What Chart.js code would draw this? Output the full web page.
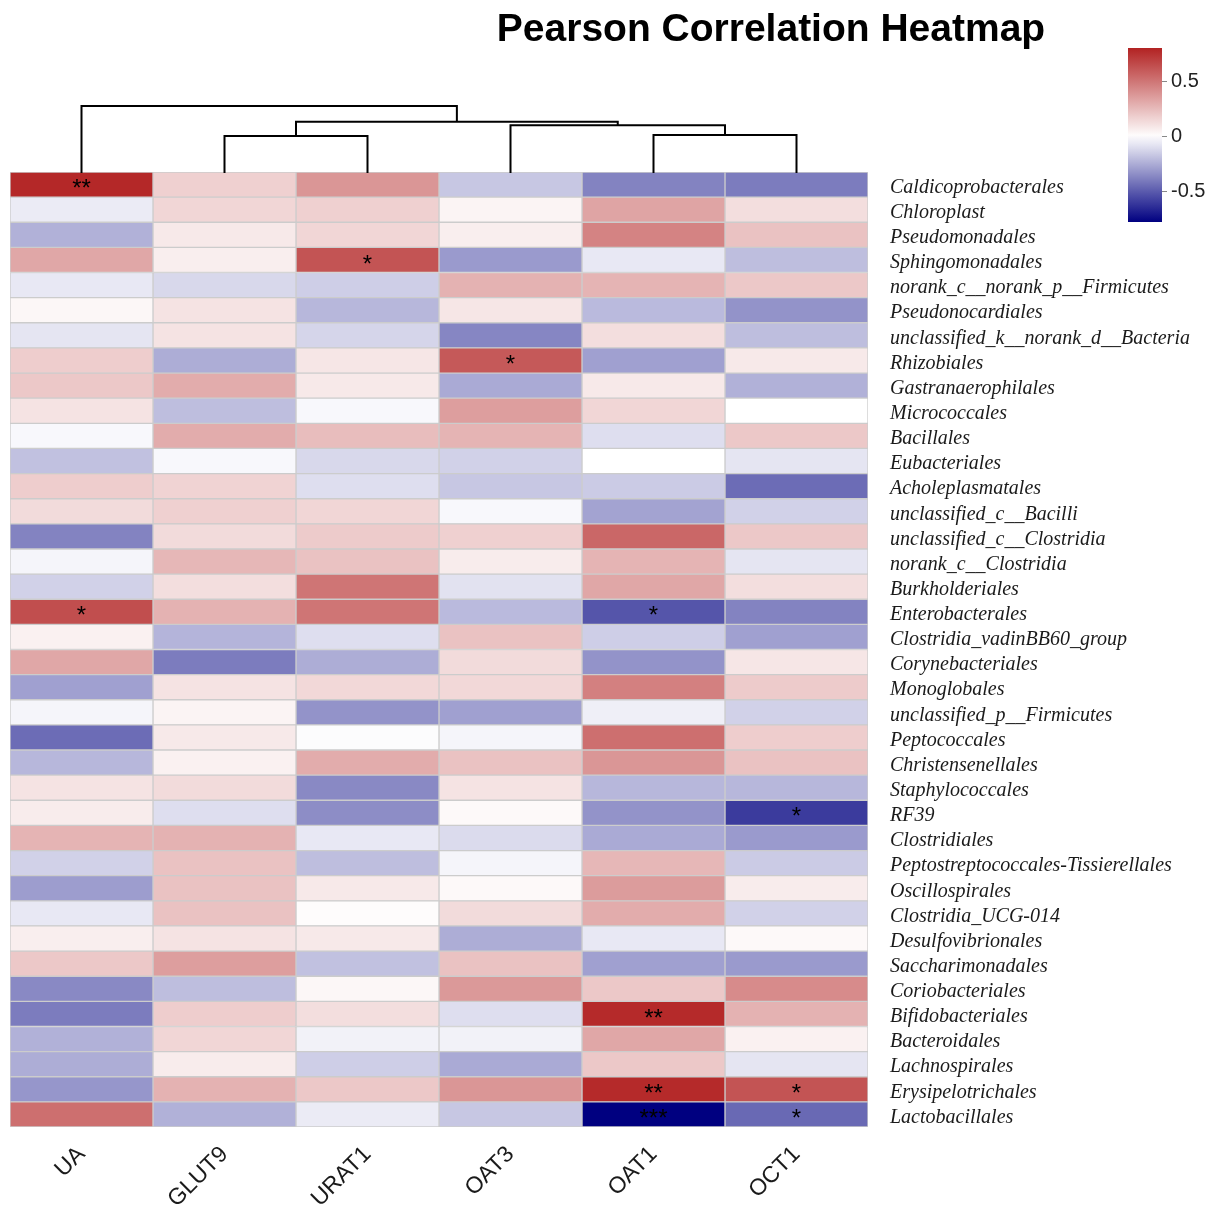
<!DOCTYPE html>
<html>
<head>
<meta charset="utf-8">
<script src="https://cdn.jsdelivr.net/npm/chart.js@4/dist/chart.umd.min.js"></script>
<style>
  html, body { margin:0; padding:0; background:#ffffff; }
  #wrap { position:relative; width:1218px; height:1212px; overflow:hidden; }
  canvas { position:absolute; }
  #title { position:absolute; left:771px; top:8px; transform:translateX(-50%); white-space:nowrap;
           font: bold 39px "Liberation Sans", Arial, sans-serif; line-height:39px; color:#000; }
</style>
</head>
<body>
<div id="wrap">
  <canvas id="heat" width="1218" height="1212" style="left:0;top:0;"></canvas>
  <canvas id="dendro" width="1218" height="180" style="left:0;top:0;"></canvas>
  <canvas id="legend" width="118" height="210" style="left:1100px;top:30px;"></canvas>
  <div id="title">Pearson Correlation Heatmap</div>
</div>
<script>
// ---------------- data ----------------
const rowLabels = ["Caldicoprobacterales","Chloroplast","Pseudomonadales","Sphingomonadales",
  "norank_c__norank_p__Firmicutes","Pseudonocardiales","unclassified_k__norank_d__Bacteria","Rhizobiales",
  "Gastranaerophilales","Micrococcales","Bacillales","Eubacteriales","Acholeplasmatales",
  "unclassified_c__Bacilli","unclassified_c__Clostridia","norank_c__Clostridia","Burkholderiales",
  "Enterobacterales","Clostridia_vadinBB60_group","Corynebacteriales","Monoglobales",
  "unclassified_p__Firmicutes","Peptococcales","Christensenellales","Staphylococcales","RF39",
  "Clostridiales","Peptostreptococcales-Tissierellales","Oscillospirales","Clostridia_UCG-014",
  "Desulfovibrionales","Saccharimonadales","Coriobacteriales","Bifidobacteriales","Bacteroidales",
  "Lachnospirales","Erysipelotrichales","Lactobacillales"];

const colNames = ["UA","GLUT9","URAT1","OAT3","OAT1","OCT1"];

const UA    = [0.78,-0.06,-0.24,0.32,-0.07,0.03,-0.08,0.18,0.20,0.10,-0.02,-0.19,0.18,0.13,-0.38,-0.03,-0.14,0.64,0.05,0.32,-0.29,-0.03,-0.45,-0.22,0.10,0.07,0.27,-0.14,-0.30,-0.07,0.06,0.20,-0.36,-0.40,-0.24,-0.25,-0.32,0.52];
const GLUT9 = [0.17,0.15,0.08,0.06,-0.12,0.10,0.10,-0.25,0.30,-0.20,0.30,-0.02,0.16,0.17,0.13,0.26,0.12,0.28,-0.23,-0.40,0.10,0.04,0.08,0.05,0.13,-0.10,0.28,0.22,0.22,0.22,0.10,0.35,-0.20,0.18,0.15,0.07,0.28,-0.24];
const URAT1 = [0.38,0.17,0.15,0.62,-0.15,-0.22,-0.13,0.09,0.08,-0.02,0.24,-0.12,-0.10,0.15,0.19,0.22,0.50,0.50,-0.10,-0.25,0.14,-0.33,-0.01,0.30,-0.36,-0.35,-0.07,-0.20,0.08,0.01,0.08,-0.19,0.03,0.12,-0.04,-0.15,0.20,-0.06];
const OAT3  = [-0.17,0.04,0.06,-0.31,0.28,0.09,-0.37,0.60,-0.26,0.35,0.27,-0.14,-0.17,-0.02,0.17,0.07,-0.09,-0.21,0.22,0.13,0.14,-0.29,-0.03,0.22,0.10,0.02,-0.11,-0.03,0.02,0.13,-0.25,0.22,0.37,-0.10,-0.04,-0.26,0.38,-0.17];
const OAT1  = [-0.38,0.33,0.45,-0.07,0.27,-0.21,0.12,-0.29,0.08,0.15,-0.10,0.00,-0.16,-0.28,0.55,0.27,0.32,-0.52,-0.15,-0.33,0.46,-0.05,0.52,0.38,-0.22,-0.33,-0.26,0.26,0.36,0.30,-0.07,-0.29,0.20,0.77,0.32,0.20,0.77,-0.78];
const OCT1  = [-0.40,0.12,0.22,-0.20,0.20,-0.33,-0.20,0.08,-0.24,0.00,0.20,-0.08,-0.45,-0.14,0.20,-0.08,0.12,-0.38,-0.29,0.09,0.19,-0.14,0.18,0.22,-0.22,-0.60,-0.31,-0.16,0.07,-0.14,0.02,-0.31,0.42,0.28,0.05,-0.08,0.62,-0.46];
const series = [UA, GLUT9, URAT1, OAT3, OAT1, OCT1];

const significance = [
  {row:"Caldicoprobacterales", col:"UA",   mark:"**"},
  {row:"Sphingomonadales",     col:"URAT1",mark:"*"},
  {row:"Rhizobiales",          col:"OAT3", mark:"*"},
  {row:"Enterobacterales",     col:"UA",   mark:"*"},
  {row:"Enterobacterales",     col:"OAT1", mark:"*"},
  {row:"RF39",                 col:"OCT1", mark:"*"},
  {row:"Bifidobacteriales",    col:"OAT1", mark:"**"},
  {row:"Erysipelotrichales",   col:"OAT1", mark:"**"},
  {row:"Erysipelotrichales",   col:"OCT1", mark:"*"},
  {row:"Lactobacillales",      col:"OAT1", mark:"***"},
  {row:"Lactobacillales",      col:"OCT1", mark:"*"}
];

// dendrogram over columns: [left, right, height]
const dendroMerges = [
  ["OAT1","OCT1",0.569],
  ["GLUT9","URAT1",0.553],
  ["OAT3","m0",0.713],
  ["m1","m2",0.765],
  ["UA","m3",1.0]
];

const legendRange = [-0.78, 0.80];
const legendTicks = [-0.5, 0, 0.5];

// ---------------- colours ----------------
const LOW = [0,0,128], MID = [255,255,255], HIGH = [178,34,34];
function colorFor(v){
  let c;
  if (v >= 0){ const t = Math.min(v/legendRange[1],1); c = MID.map((m,k)=>m+(HIGH[k]-m)*t); }
  else { const t = Math.min(v/legendRange[0],1); c = MID.map((m,k)=>m+(LOW[k]-m)*t); }
  return `rgb(${Math.round(c[0])},${Math.round(c[1])},${Math.round(c[2])})`;
}

// ---------------- heatmap ----------------
const starPlugin = {
  id:'stars',
  afterDatasetsDraw(chart){
    const ctx = chart.ctx;
    ctx.save();
    ctx.fillStyle = '#000';
    ctx.font = '24px "Liberation Sans", Arial, sans-serif';
    ctx.textAlign = 'center';
    ctx.textBaseline = 'middle';
    significance.forEach(s=>{
      const j = colNames.indexOf(s.col), i = rowLabels.indexOf(s.row);
      const el = chart.getDatasetMeta(j).data[i];
      const p = el.getCenterPoint();
      ctx.fillText(s.mark, p.x, p.y + 5);
    });
    ctx.restore();
  }
};

new Chart(document.getElementById('heat'), {
  type:'bar',
  data:{
    labels: rowLabels,
    datasets: colNames.map((name,j)=>({
      label:name,
      data: rowLabels.map(()=>1),
      backgroundColor: ctx => colorFor(series[j][ctx.dataIndex]),
      borderColor:'#cccccc',
      borderWidth:1,
      borderSkipped:false,
      barPercentage:1,
      categoryPercentage:1
    }))
  },
  options:{
    indexAxis:'y',
    responsive:false,
    animation:false,
    devicePixelRatio:1,
    layout:{ padding:{ left:10, top:172, right:0, bottom:0 } },
    plugins:{ legend:{display:false}, tooltip:{enabled:false}, title:{display:false} },
    scales:{
      x:{
        type:'linear', stacked:true, min:0, max:colNames.length, position:'bottom',
        grid:{display:false}, border:{display:false},
        afterBuildTicks: s => { s.ticks = colNames.map((_,j)=>({value:j+0.5})); },
        afterFit: s => { s.height = 85; },
        ticks:{
          autoSkip:false, minRotation:45, maxRotation:45, padding:6,
          color:'#1a1a1a', font:{family:'"Liberation Sans", Arial, sans-serif', size:23},
          callback:(v,i)=>colNames[i]
        }
      },
      y:{
        type:'category', stacked:true, position:'right',
        grid:{display:false}, border:{display:false},
        afterFit: s => { s.width = 350; },
        ticks:{
          padding:14, labelOffset:3, color:'#1a1a1a', autoSkip:false,
          font:{family:'"Liberation Serif", "Times New Roman", serif', size:20, style:'italic'}
        }
      }
    }
  },
  plugins:[starPlugin]
});

// ---------------- dendrogram ----------------
const nodes = {};
colNames.forEach((n,i)=>{ nodes[n] = {x:i, y:0}; });
const dendroSets = dendroMerges.map((m,k)=>{
  const a = nodes[m[0]], b = nodes[m[1]], h = m[2];
  nodes['m'+k] = {x:(a.x+b.x)/2, y:h};
  return {
    data:[{x:a.x,y:a.y},{x:a.x,y:h},{x:b.x,y:h},{x:b.x,y:b.y}],
    showLine:true, borderColor:'#000', borderWidth:2, pointRadius:0, fill:false, clip:false
  };
});
new Chart(document.getElementById('dendro'), {
  type:'scatter',
  data:{ datasets: dendroSets },
  options:{
    responsive:false, animation:false, devicePixelRatio:1,
    layout:{ padding:{ left:10, right:350, top:106, bottom:7 } },
    plugins:{ legend:{display:false}, tooltip:{enabled:false} },
    scales:{
      x:{ type:'linear', min:-0.5, max:colNames.length-0.5, display:false },
      y:{ type:'linear', min:0, max:1, display:false }
    }
  }
});

// ---------------- colour legend ----------------
new Chart(document.getElementById('legend'), {
  type:'bar',
  data:{
    labels:[''],
    datasets:[{
      data:[legendRange],
      borderWidth:0,
      barPercentage:1, categoryPercentage:1,
      backgroundColor: ctx => {
        const ch = ctx.chart, area = ch.chartArea;
        if (!area) return '#fff';
        const ys = ch.scales.y;
        const y0 = ys.getPixelForValue(legendRange[0]), y1 = ys.getPixelForValue(legendRange[1]);
        const g = ch.ctx.createLinearGradient(0, y0, 0, y1);
        const n = 20;
        for (let k=0;k<=n;k++){
          const v = legendRange[0] + (legendRange[1]-legendRange[0])*k/n;
          g.addColorStop(k/n, colorFor(v));
        }
        return g;
      }
    }]
  },
  options:{
    responsive:false, animation:false, devicePixelRatio:1,
    layout:{ padding:{ left:28, top:18, bottom:18, right:0 } },
    plugins:{ legend:{display:false}, tooltip:{enabled:false} },
    scales:{
      x:{ display:false },
      y:{
        type:'linear', position:'right', min:legendRange[0], max:legendRange[1],
        afterBuildTicks: s => { s.ticks = legendTicks.map(v=>({value:v})); },
        afterFit: s => { s.width = 56; },
        grid:{ display:true, drawOnChartArea:false, drawTicks:true, tickLength:5, color:'#888', lineWidth:1 },
        border:{ display:false },
        ticks:{ padding:4, color:'#222', font:{family:'"Liberation Sans", Arial, sans-serif', size:20},
          callback: v => String(v) }
      }
    }
  }
});
</script>
</body>
</html>
